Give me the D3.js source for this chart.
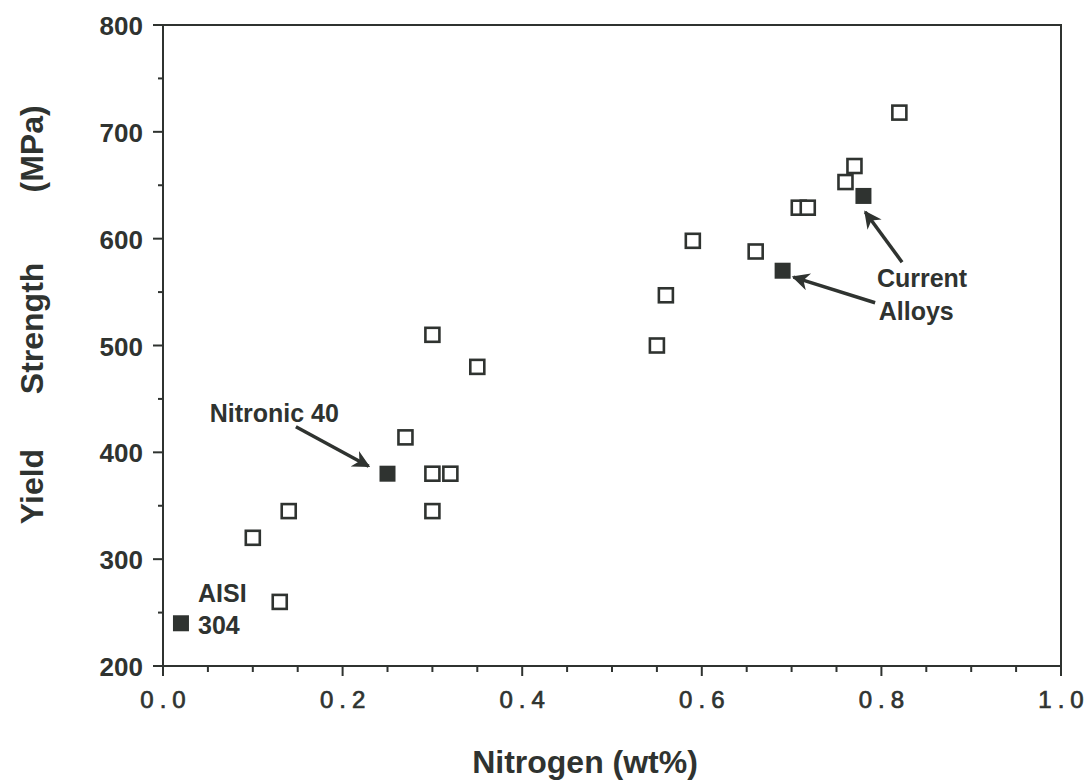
<!DOCTYPE html>
<html>
<head>
<meta charset="utf-8">
<script src="https://cdn.jsdelivr.net/npm/d3@7"></script>
<style>
  body { margin: 0; background: #fff; }
  text { font-family: "Liberation Sans", Arial, sans-serif; fill: #2f3330; }
</style>
</head>
<body>
<div id="chart"></div>
<script>
// Nitrogen content (wt%) vs yield strength (MPa)
const openN = [0.10, 0.14, 0.13, 0.30, 0.35, 0.27, 0.30, 0.32, 0.30, 0.55, 0.56, 0.59, 0.66, 0.708, 0.718, 0.76, 0.77, 0.82];
const openYS = [320, 345, 260, 510, 480, 414, 380, 380, 345, 500, 547, 598, 588, 629, 629, 653, 668, 718];

const filledN = [0.02, 0.25, 0.69, 0.78];
const filledYS = [240, 380, 570, 640];

const xTicks = [0, 0.2, 0.4, 0.6, 0.8, 1.0];
const yTicks = [200, 300, 400, 500, 600, 700, 800];

// annotation labels [x, y, text] in data units
const labels = [
  [0.039, 260, "AISI"],
  [0.039, 230, "304"],
  [0.052, 428, "Nitronic 40"],
  [0.795, 555, "Current"],
  [0.797, 524, "Alloys"]
];
// arrows [x1, y1, x2, y2] in data units
const arrows = [
  [0.148, 424, 0.229, 387],
  [0.823, 578, 0.782, 625],
  [0.793, 540, 0.702, 564]
];

// y title words with centre positions (MPa)
const yTitle = [["Yield", 368], ["Strength", 516], ["(MPa)", 684]];

const width = 1090, height = 781;
const margin = {top: 25, right: 29, bottom: 115, left: 163};

const x = d3.scaleLinear().domain([0, 1]).range([margin.left, width - margin.right]);
const y = d3.scaleLinear().domain([200, 800]).range([height - margin.bottom, margin.top]);

const ink = "#2f3330";

const svg = d3.select("#chart").append("svg")
    .attr("width", width)
    .attr("height", height);

// frame
svg.append("rect")
    .attr("x", x(0)).attr("y", y(800))
    .attr("width", x(1) - x(0)).attr("height", y(200) - y(800))
    .attr("fill", "none").attr("stroke", ink).attr("stroke-width", 2);

// x ticks
const xMinor = d3.range(0, 1.0001, 0.05);
svg.append("g").selectAll("line").data(xMinor).join("line")
    .attr("x1", d => x(d)).attr("x2", d => x(d))
    .attr("y1", y(200))
    .attr("y2", (d, i) => y(200) + (i % 4 === 0 ? 10 : 6))
    .attr("stroke", ink).attr("stroke-width", 2);

// spaced-out tick labels, one tspan per character
const xLab = svg.append("g").selectAll("text").data(xTicks).join("text")
    .attr("x", d => x(d)).attr("y", y(200) + 42)
    .attr("text-anchor", "middle")
    .style("font-size", "24px")
    .attr("stroke", ink).attr("stroke-width", 0.7);
xLab.selectAll("tspan").data(d => d.toFixed(1).split("")).join("tspan")
    .attr("dx", (c, i) => i === 0 ? 0 : 6)
    .text(c => c);

// y ticks
const yMinor = d3.range(200, 800.1, 50);
svg.append("g").selectAll("line").data(yMinor).join("line")
    .attr("y1", d => y(d)).attr("y2", d => y(d))
    .attr("x1", x(0))
    .attr("x2", (d, i) => x(0) - (i % 2 === 0 ? 10 : 5))
    .attr("stroke", ink).attr("stroke-width", 2);

svg.append("g").selectAll("text").data(yTicks).join("text")
    .attr("x", x(0) - 20).attr("y", d => y(d) + 10)
    .attr("text-anchor", "end")
    .style("font-size", "26px").style("font-weight", "bold")
    .text(d => d);

// axis titles
svg.append("text")
    .attr("x", 585).attr("y", 773)
    .attr("text-anchor", "middle")
    .style("font-size", "32px").style("font-weight", "bold")
    .text("Nitrogen (wt%)");

svg.append("g").selectAll("text").data(yTitle).join("text")
    .attr("transform", d => `translate(43,${y(d[1])}) rotate(-90)`)
    .attr("text-anchor", "middle")
    .style("font-size", "32px").style("font-weight", "bold")
    .text(d => d[0]);

// markers
const s = 14;
const openData = openN.map((n, i) => [n, openYS[i]]);
const filledData = filledN.map((n, i) => [n, filledYS[i]]);

svg.append("g").selectAll("rect").data(openData).join("rect")
    .attr("x", d => x(d[0]) - s / 2).attr("y", d => y(d[1]) - s / 2)
    .attr("width", s).attr("height", s)
    .attr("fill", "#fff").attr("stroke", ink).attr("stroke-width", 2.6);

svg.append("g").selectAll("rect").data(filledData).join("rect")
    .attr("x", d => x(d[0]) - 8).attr("y", d => y(d[1]) - 8)
    .attr("width", 16).attr("height", 16)
    .attr("fill", ink);

// annotations
svg.append("g").selectAll("text").data(labels).join("text")
    .attr("x", d => x(d[0])).attr("y", d => y(d[1]))
    .style("font-size", "25px").style("font-weight", "bold")
    .text(d => d[2]);

svg.append("defs").append("marker")
    .attr("id", "head")
    .attr("viewBox", "0 0 10 10")
    .attr("refX", 9).attr("refY", 5)
    .attr("markerWidth", 6.5).attr("markerHeight", 5)
    .attr("markerUnits", "strokeWidth")
    .attr("orient", "auto")
  .append("path")
    .attr("d", "M0,0 L10,5 L0,10 L3,5 Z")
    .attr("fill", ink);

svg.append("g").selectAll("line").data(arrows).join("line")
    .attr("x1", d => x(d[0])).attr("y1", d => y(d[1]))
    .attr("x2", d => x(d[2])).attr("y2", d => y(d[3]))
    .attr("stroke", ink).attr("stroke-width", 3.5)
    .attr("marker-end", "url(#head)");
</script>
</body>
</html>
